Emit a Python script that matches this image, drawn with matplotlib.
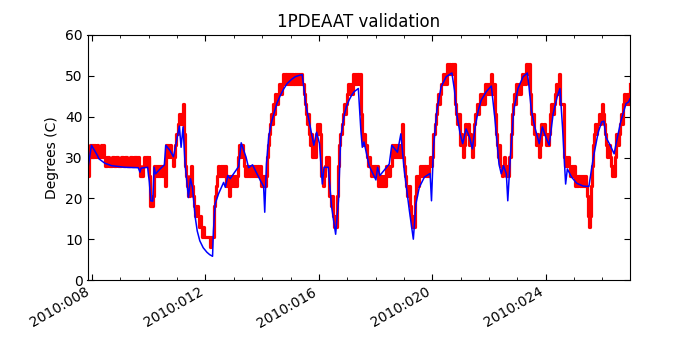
import numpy as np
import matplotlib
matplotlib.use("Agg")
import matplotlib.pyplot as plt
from matplotlib.ticker import MultipleLocator, FuncFormatter

# old-style look: ticks inside, on all four sides
plt.rcParams['xtick.direction'] = 'in'
plt.rcParams['ytick.direction'] = 'in'
plt.rcParams['xtick.top'] = True
plt.rcParams['ytick.right'] = True
plt.rcParams['xtick.major.size'] = 4
plt.rcParams['xtick.minor.size'] = 2
plt.rcParams['ytick.major.size'] = 4
plt.rcParams['font.size'] = 10

title = "1PDEAAT validation"
ylabel = "Degrees (C)"
year = 2010
day_range = (7.84, 26.97)
ylims = (0, 60)

# model prediction (day of year, degC)
model_pts = [
    (7.86, 27.6), (7.98, 33.0), (8.19, 30.5), (8.24, 29.7), (8.45, 28.6), (8.69, 28.0),
    (9.16, 27.6), (9.63, 27.5), (9.69, 26.4), (9.73, 27.4), (9.96, 27.6), (10.02, 24.0),
    (10.07, 19.4), (10.14, 19.3), (10.19, 27.6), (10.24, 26.0), (10.40, 27.2), (10.55, 28.2),
    (10.60, 33.0), (10.75, 31.7), (10.87, 30.2), (10.95, 33.0), (11.08, 37.7), (11.14, 32.5),
    (11.21, 37.5), (11.28, 28.4), (11.40, 20.2), (11.47, 24.8), (11.54, 22.7), (11.64, 15.3),
    (11.71, 12.0), (11.80, 9.6), (11.92, 7.9), (12.05, 6.8), (12.15, 6.2), (12.25, 5.8),
    (12.28, 12.0), (12.34, 18.6), (12.46, 21.1), (12.64, 23.9), (12.70, 22.7), (12.79, 25.6),
    (12.87, 24.8), (12.99, 26.0), (13.17, 27.8), (13.26, 33.6), (13.35, 31.7), (13.43, 30.1),
    (13.52, 27.5), (13.66, 28.2), (13.76, 26.8), (13.94, 24.3), (14.05, 22.9), (14.09, 16.6),
    (14.15, 28.4), (14.23, 35.0), (14.32, 38.5), (14.41, 40.7), (14.52, 43.3), (14.64, 45.2),
    (14.76, 46.8), (14.88, 48.1), (15.03, 49.1), (15.17, 49.8), (15.30, 50.1), (15.41, 50.3),
    (15.47, 47.0), (15.53, 43.2), (15.65, 39.1), (15.82, 33.0), (15.92, 36.2), (16.02, 33.4),
    (16.12, 23.5), (16.18, 27.6), (16.33, 27.6), (16.45, 17.8), (16.59, 11.2), (16.69, 19.4),
    (16.77, 35.0), (16.89, 40.3), (16.97, 42.5), (17.06, 44.0), (17.15, 45.2), (17.24, 46.1),
    (17.39, 46.9), (17.48, 36.6), (17.53, 32.5), (17.59, 33.8), (17.77, 28.0), (18.01, 24.5),
    (18.07, 27.6), (18.15, 25.6), (18.48, 28.4), (18.57, 33.0), (18.77, 31.3), (18.89, 35.8),
    (19.01, 26.8), (19.19, 17.0), (19.33, 10.0), (19.42, 18.6), (19.54, 22.7), (19.72, 25.2),
    (19.92, 26.1), (19.97, 19.4), (20.04, 32.5), (20.16, 41.6), (20.31, 47.3), (20.49, 49.8),
    (20.69, 50.7), (20.78, 46.5), (20.86, 40.7), (20.98, 35.8), (21.07, 33.4), (21.19, 37.0),
    (21.31, 35.0), (21.41, 32.1), (21.52, 37.9), (21.62, 41.5), (21.72, 44.0), (21.90, 46.1),
    (22.08, 47.5), (22.20, 39.9), (22.35, 28.4), (22.43, 26.0), (22.51, 28.0), (22.61, 26.0),
    (22.66, 19.4), (22.75, 30.1), (22.87, 41.6), (23.02, 46.9), (23.20, 49.8), (23.35, 50.7),
    (23.41, 47.3), (23.49, 41.6), (23.61, 37.5), (23.77, 33.4), (23.88, 37.5), (24.00, 35.0),
    (24.12, 33.0), (24.26, 40.7), (24.40, 44.8), (24.50, 46.9), (24.59, 37.5), (24.70, 23.5),
    (24.76, 27.2), (24.91, 25.2), (25.09, 23.7), (25.32, 23.0), (25.52, 22.9), (25.68, 30.1),
    (25.85, 36.2), (25.97, 38.7), (26.05, 38.9), (26.12, 35.0), (26.27, 33.0), (26.41, 30.9),
    (26.48, 33.4), (26.64, 38.7), (26.83, 43.2), (26.92, 43.6), (26.97, 44.4),
]

# telemetry, quantized (day of year, degC)
tlm_pts = [
    (7.84, 25.4), (7.88, 30.2), (7.92, 33.1), (7.96, 30.2), (8.00, 33.1), (8.04, 30.2),
    (8.08, 33.1), (8.12, 30.2), (8.16, 33.1), (8.20, 30.2), (8.26, 30.2), (8.31, 33.1),
    (8.35, 30.2), (8.39, 33.1), (8.42, 30.2), (8.45, 27.9), (8.53, 30.2), (8.61, 27.9),
    (8.69, 30.2), (8.77, 27.9), (8.85, 30.2), (8.93, 27.9), (9.01, 30.2), (9.09, 27.9),
    (9.17, 30.2), (9.25, 27.9), (9.33, 30.2), (9.41, 27.9), (9.49, 30.2), (9.57, 27.9),
    (9.63, 30.2), (9.67, 27.9), (9.70, 25.4), (9.76, 25.4), (9.80, 27.9), (9.84, 30.2),
    (9.88, 27.9), (9.92, 30.2), (9.96, 27.9), (10.00, 30.2), (10.02, 25.4), (10.05, 18.1),
    (10.10, 18.1), (10.14, 20.5), (10.17, 27.9), (10.21, 25.4), (10.25, 27.9), (10.29, 25.4),
    (10.33, 27.9), (10.37, 25.4), (10.41, 27.9), (10.45, 25.4), (10.49, 27.9), (10.53, 25.4),
    (10.57, 23.0), (10.60, 33.1), (10.64, 30.2), (10.68, 33.1), (10.72, 30.2), (10.76, 33.1),
    (10.80, 30.2), (10.84, 27.9), (10.88, 30.2), (10.92, 33.1), (10.96, 35.7), (11.02, 38.2),
    (11.06, 40.7), (11.10, 38.2), (11.14, 40.7), (11.18, 38.2), (11.21, 43.2), (11.24, 35.7),
    (11.28, 27.9), (11.32, 25.4), (11.36, 23.0), (11.40, 20.5), (11.44, 25.4), (11.48, 27.9),
    (11.52, 23.0), (11.56, 20.5), (11.60, 18.1), (11.64, 15.6), (11.68, 18.1), (11.72, 15.6),
    (11.76, 13.1), (11.80, 15.6), (11.84, 13.1), (11.88, 10.6), (11.92, 13.1), (11.95, 10.6),
    (12.15, 10.6), (12.17, 8.1), (12.20, 10.6), (12.26, 10.6), (12.29, 18.1), (12.33, 20.5),
    (12.37, 23.0), (12.41, 25.4), (12.45, 27.9), (12.49, 25.4), (12.53, 27.9), (12.57, 25.4),
    (12.61, 27.9), (12.65, 25.4), (12.69, 27.9), (12.73, 23.0), (12.77, 25.4), (12.81, 23.0),
    (12.84, 20.5), (12.87, 25.4), (12.91, 23.0), (12.95, 25.4), (12.99, 23.0), (13.03, 25.4),
    (13.07, 23.0), (13.11, 25.4), (13.15, 30.2), (13.19, 33.1), (13.23, 30.2), (13.27, 33.1),
    (13.31, 30.2), (13.35, 27.9), (13.39, 25.4), (13.43, 27.9), (13.47, 25.4), (13.51, 27.9),
    (13.55, 25.4), (13.59, 27.9), (13.63, 25.4), (13.67, 27.9), (13.71, 25.4), (13.75, 27.9),
    (13.79, 25.4), (13.83, 27.9), (13.87, 25.4), (13.91, 27.9), (13.95, 23.0), (13.99, 25.4),
    (14.03, 23.0), (14.07, 25.4), (14.11, 23.0), (14.15, 25.4), (14.17, 30.2), (14.20, 33.1),
    (14.23, 35.7), (14.26, 38.2), (14.30, 40.7), (14.34, 38.2), (14.38, 43.2), (14.42, 40.7),
    (14.46, 45.6), (14.50, 43.2), (14.55, 45.6), (14.60, 48.1), (14.65, 45.6), (14.70, 48.1),
    (14.74, 50.5), (14.78, 48.1), (14.82, 50.5), (14.86, 48.1), (14.90, 50.5), (14.94, 48.1),
    (14.98, 50.5), (15.02, 48.1), (15.06, 50.5), (15.10, 48.1), (15.14, 50.5), (15.18, 48.1),
    (15.22, 50.5), (15.26, 48.1), (15.30, 50.5), (15.34, 48.1), (15.38, 50.5), (15.42, 48.1),
    (15.46, 45.6), (15.50, 43.2), (15.53, 40.7), (15.57, 38.2), (15.61, 40.7), (15.65, 35.7),
    (15.69, 33.1), (15.73, 35.7), (15.77, 30.2), (15.81, 33.1), (15.85, 30.2), (15.89, 35.7),
    (15.93, 38.2), (15.97, 35.7), (16.01, 38.2), (16.05, 35.7), (16.09, 25.4), (16.13, 23.0),
    (16.17, 25.4), (16.21, 27.9), (16.25, 30.2), (16.29, 27.9), (16.33, 30.2), (16.37, 20.5),
    (16.41, 18.1), (16.45, 20.5), (16.49, 15.6), (16.53, 13.1), (16.57, 15.6), (16.61, 13.1),
    (16.65, 20.5), (16.69, 27.9), (16.72, 33.1), (16.76, 35.7), (16.80, 38.2), (16.84, 40.7),
    (16.88, 43.2), (16.92, 40.7), (16.96, 43.2), (17.00, 45.6), (17.04, 48.1), (17.08, 45.6),
    (17.12, 48.1), (17.16, 45.6), (17.20, 50.5), (17.24, 48.1), (17.28, 50.5), (17.32, 48.1),
    (17.36, 50.5), (17.40, 48.1), (17.44, 50.5), (17.48, 40.7), (17.52, 35.7), (17.56, 33.1),
    (17.60, 35.7), (17.64, 33.1), (17.68, 30.2), (17.72, 27.9), (17.76, 30.2), (17.80, 27.9),
    (17.84, 25.4), (17.88, 27.9), (17.92, 25.4), (17.96, 27.9), (18.00, 25.4), (18.04, 27.9),
    (18.08, 23.0), (18.12, 25.4), (18.16, 23.0), (18.20, 25.4), (18.24, 23.0), (18.28, 25.4),
    (18.32, 23.0), (18.36, 27.9), (18.40, 25.4), (18.44, 27.9), (18.48, 25.4), (18.52, 27.9),
    (18.56, 33.1), (18.60, 30.2), (18.64, 33.1), (18.68, 30.2), (18.72, 33.1), (18.76, 30.2),
    (18.80, 33.1), (18.84, 30.2), (18.88, 33.1), (18.92, 38.2), (18.96, 30.2), (19.00, 27.9),
    (19.04, 25.4), (19.08, 23.0), (19.12, 20.5), (19.16, 23.0), (19.20, 18.1), (19.24, 15.6),
    (19.28, 13.1), (19.32, 15.6), (19.36, 13.1), (19.40, 20.5), (19.44, 25.4), (19.48, 23.0),
    (19.52, 25.4), (19.56, 27.9), (19.60, 25.4), (19.64, 27.9), (19.68, 25.4), (19.72, 27.9),
    (19.76, 25.4), (19.80, 27.9), (19.84, 25.4), (19.88, 27.9), (19.90, 30.2), (19.94, 27.9),
    (19.96, 27.9), (20.00, 30.2), (20.04, 35.7), (20.08, 38.2), (20.12, 40.7), (20.16, 43.2),
    (20.20, 45.6), (20.24, 43.2), (20.28, 45.6), (20.32, 48.1), (20.36, 50.5), (20.40, 48.1),
    (20.44, 50.5), (20.48, 48.1), (20.52, 53.0), (20.56, 50.5), (20.60, 53.0), (20.64, 50.5),
    (20.68, 53.0), (20.72, 50.5), (20.76, 53.0), (20.80, 43.2), (20.84, 40.7), (20.88, 38.2),
    (20.92, 40.7), (20.96, 33.1), (21.00, 35.7), (21.04, 33.1), (21.08, 30.2), (21.12, 33.1),
    (21.16, 38.2), (21.20, 35.7), (21.24, 38.2), (21.28, 33.1), (21.32, 35.7), (21.36, 33.1),
    (21.40, 30.2), (21.44, 33.1), (21.48, 38.2), (21.52, 40.7), (21.56, 43.2), (21.60, 40.7),
    (21.64, 43.2), (21.68, 45.6), (21.72, 43.2), (21.76, 45.6), (21.80, 43.2), (21.84, 48.1),
    (21.88, 45.6), (21.92, 48.1), (21.96, 45.6), (22.00, 48.1), (22.04, 45.6), (22.08, 50.5),
    (22.12, 45.6), (22.16, 48.1), (22.20, 40.7), (22.24, 35.7), (22.28, 33.1), (22.32, 30.2),
    (22.36, 33.1), (22.40, 27.9), (22.44, 25.4), (22.48, 27.9), (22.52, 30.2), (22.56, 27.9),
    (22.60, 25.4), (22.64, 27.9), (22.68, 25.4), (22.72, 30.2), (22.76, 35.7), (22.80, 40.7),
    (22.84, 43.2), (22.88, 45.6), (22.92, 43.2), (22.96, 48.1), (23.00, 45.6), (23.04, 48.1),
    (23.08, 45.6), (23.12, 48.1), (23.16, 50.5), (23.20, 48.1), (23.24, 50.5), (23.28, 48.1),
    (23.32, 53.0), (23.36, 50.5), (23.40, 53.0), (23.44, 45.6), (23.48, 40.7), (23.52, 38.2),
    (23.56, 40.7), (23.60, 35.7), (23.64, 33.1), (23.68, 35.7), (23.72, 33.1), (23.76, 30.2),
    (23.80, 33.1), (23.84, 38.2), (23.88, 35.7), (23.92, 38.2), (23.96, 35.7), (24.00, 33.1),
    (24.04, 35.7), (24.08, 33.1), (24.12, 35.7), (24.16, 40.7), (24.20, 43.2), (24.24, 40.7),
    (24.28, 43.2), (24.32, 45.6), (24.36, 48.1), (24.40, 45.6), (24.44, 48.1), (24.47, 50.5),
    (24.51, 43.2), (24.60, 43.2), (24.63, 30.2), (24.67, 27.9), (24.71, 30.2), (24.75, 27.9),
    (24.79, 30.2), (24.83, 27.9), (24.87, 25.4), (24.91, 27.9), (24.95, 25.4), (24.99, 27.9),
    (25.03, 23.0), (25.07, 25.4), (25.11, 23.0), (25.15, 25.4), (25.19, 23.0), (25.23, 25.4),
    (25.27, 23.0), (25.31, 25.4), (25.35, 23.0), (25.39, 25.4), (25.43, 23.0), (25.46, 20.5),
    (25.49, 15.6), (25.52, 13.1), (25.55, 15.6), (25.58, 23.0), (25.62, 27.9), (25.66, 33.1),
    (25.70, 35.7), (25.74, 38.2), (25.78, 35.7), (25.82, 38.2), (25.86, 40.7), (25.90, 38.2),
    (25.94, 40.7), (25.97, 43.2), (26.01, 40.7), (26.05, 38.2), (26.09, 35.7), (26.13, 33.1),
    (26.17, 30.2), (26.21, 33.1), (26.25, 30.2), (26.29, 27.9), (26.33, 25.4), (26.37, 27.9),
    (26.41, 25.4), (26.45, 30.2), (26.49, 35.7), (26.53, 33.1), (26.57, 35.7), (26.61, 38.2),
    (26.65, 40.7), (26.69, 38.2), (26.73, 43.2), (26.77, 45.6), (26.81, 43.2), (26.85, 45.6),
    (26.89, 43.2), (26.93, 45.6), (26.97, 48.1),
]

model_day, model_degc = np.array(model_pts).T
tlm_day, tlm_degc = np.array(tlm_pts).T

fig = plt.figure(figsize=(7, 3.5), dpi=100)
ax = fig.add_subplot(111)
# telemetry is quantized, so draw it as steps
ax.plot(tlm_day, tlm_degc, '-r', lw=2.3, drawstyle='steps-post')
ax.plot(model_day, model_degc, '-b', lw=1.1)

ax.set_xlim(*day_range)
ax.set_ylim(*ylims)
ax.xaxis.set_major_locator(MultipleLocator(4))
ax.xaxis.set_minor_locator(MultipleLocator(1))
ax.xaxis.set_major_formatter(FuncFormatter(lambda x, pos: "%d:%03d" % (year, x)))
ax.yaxis.set_major_locator(MultipleLocator(10))

ax.set_title(title, fontsize=12)
ax.set_ylabel(ylabel)
fig.autofmt_xdate()
fig.subplots_adjust(left=0.125, right=0.9, top=0.9, bottom=0.2)

fig.savefig("out.png", dpi=100, facecolor='white')
